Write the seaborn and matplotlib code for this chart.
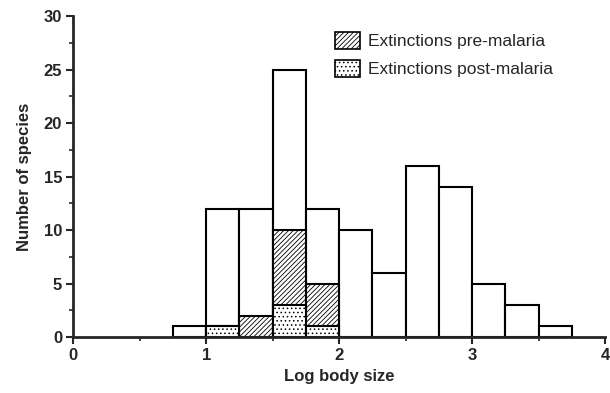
import matplotlib
matplotlib.use("Agg")
import matplotlib.pyplot as plt
import seaborn as sns
import numpy as np
from matplotlib.patches import Patch
from matplotlib.ticker import MultipleLocator

sns.set_style("ticks")
plt.rcParams['font.family'] = ['Liberation Sans', 'DejaVu Sans']
plt.rcParams['hatch.linewidth'] = 0.6

bin_left = [0.75, 1.0, 1.25, 1.5, 1.75, 2.0, 2.25, 2.5, 2.75, 3.0, 3.25, 3.5]
total = [1, 12, 12, 25, 12, 10, 6, 16, 14, 5, 3, 1]
pre_malaria = [0, 0, 2, 7, 4, 0, 0, 0, 0, 0, 0, 0]
post_malaria = [0, 1, 0, 3, 1, 0, 0, 0, 0, 0, 0, 0]
bin_width = 0.25

centers = np.array(bin_left) + bin_width / 2
edges = list(bin_left) + [bin_left[-1] + bin_width]
pre_top = np.array(pre_malaria) + np.array(post_malaria)

fig = plt.figure(figsize=(6.1, 3.93), dpi=100)
ax = fig.add_axes([0.12, 0.1425, 0.872, 0.8165])

def draw(weights, hatch):
    n0 = len(ax.patches)
    sns.histplot(x=centers, weights=weights, bins=edges, ax=ax, stat="count",
                 color="white", edgecolor="black", linewidth=1.5, alpha=1)
    for p in ax.patches[n0:]:
        p.set_facecolor("white")
        p.set_edgecolor("black")
        if hatch:
            p.set_hatch(hatch)
        if p.get_height() == 0:
            p.set_visible(False)

DOTS = "...."
LINES = "///////"
draw(total, None)
draw(pre_top, LINES)
draw(post_malaria, DOTS)

ax.set_xlim(0, 4)
ax.set_ylim(0, 30)
ax.xaxis.set_major_locator(MultipleLocator(1))
ax.xaxis.set_minor_locator(MultipleLocator(0.5))
ax.yaxis.set_major_locator(MultipleLocator(5))
ax.yaxis.set_minor_locator(MultipleLocator(2.5))
ax.tick_params(which="major", length=5, width=1.5, labelsize=12, pad=3)
ax.tick_params(which="minor", length=3, width=1.2)
for lab in ax.get_xticklabels() + ax.get_yticklabels():
    lab.set_fontweight("bold")
sns.despine(ax=ax)
for s in ["left", "bottom"]:
    ax.spines[s].set_linewidth(2)
ax.set_xlabel("Log body size", fontsize=12, fontweight="bold", labelpad=4)
ax.set_ylabel("Number of species", fontsize=12, fontweight="bold", labelpad=8)

handles = [Patch(facecolor="white", edgecolor="black", linewidth=1.2, hatch=LINES, label="Extinctions pre-malaria"),
           Patch(facecolor="white", edgecolor="black", linewidth=1.2, hatch=DOTS, label="Extinctions post-malaria")]
ax.legend(handles=handles, loc="upper left", bbox_to_anchor=(0.462, 1.0), frameon=False,
          fontsize=12.5, handlelength=1.45, handleheight=1.15, handletextpad=0.45,
          labelspacing=0.6, borderpad=0.4)

fig.savefig("out.png", dpi=100)
